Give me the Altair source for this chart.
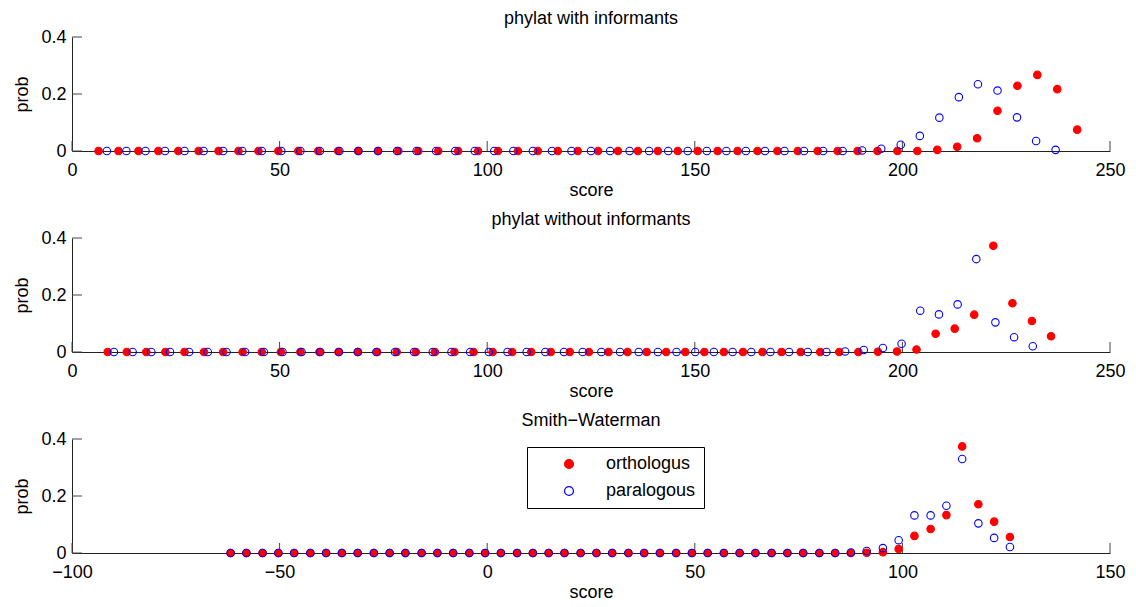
import altair as alt
import pandas as pd

FONT = "Liberation Sans"

series_names = ["orthologus", "paralogous"]
series_colors = ["#ff0000", "#0000ff"]
series_fills = ["#ff0000", "transparent"]

panel_titles = ["phylat with informants", "phylat without informants", "Smith\u2212Waterman"]

x_ticks_phylat = [0, 50, 100, 150, 200, 250]
x_ticks_sw = [-100, -50, 0, 50, 100, 150]
y_ticks = [0, 0.2, 0.4]

# ---- panel 1: phylat with informants ----
p1_orth_score = [6.4, 11.2, 16.0, 20.8, 25.6, 30.5, 35.3, 40.1, 44.9, 49.7,
                 54.5, 59.3, 64.1, 68.9, 73.7, 78.6, 83.4, 88.2, 93.0, 97.8,
                 102.6, 107.4, 112.2, 117.0, 121.8, 126.7, 131.5, 136.3, 141.1, 145.9,
                 150.7, 155.5, 160.3, 165.1, 169.9, 174.8, 179.6, 184.4, 189.2, 194.0,
                 198.8, 203.6, 208.4, 213.2, 218.0, 222.9, 227.7, 232.5, 237.3, 242.1]
p1_orth_prob = [0] * 42 + [0.004, 0.015, 0.045, 0.141, 0.229, 0.267, 0.217, 0.075]

p1_para_score = [8.4, 13.1, 17.7, 22.4, 27.1, 31.7, 36.4, 41.0, 45.7, 50.4,
                 55.0, 59.7, 64.4, 69.0, 73.7, 78.3, 83.0, 87.7, 92.3, 97.0,
                 101.7, 106.3, 111.0, 115.6, 120.3, 125.0, 129.6, 134.3, 139.0, 143.6,
                 148.3, 152.9, 157.6, 162.3, 166.9, 171.6, 176.3, 180.9, 185.6, 190.3,
                 194.9, 199.6, 204.2, 208.9, 213.6, 218.2, 222.9, 227.6, 232.2, 236.9]
p1_para_prob = [0] * 39 + [0.002, 0.008, 0.022, 0.053, 0.117, 0.189, 0.234, 0.212, 0.118, 0.035, 0.004]

# ---- panel 2: phylat without informants ----
p2_orth_score = [8.6, 13.2, 17.9, 22.5, 27.1, 31.8, 36.4, 41.1, 45.7, 50.3,
                 55.0, 59.6, 64.2, 68.9, 73.5, 78.2, 82.8, 87.4, 92.1, 96.7,
                 101.3, 106.0, 110.6, 115.3, 119.9, 124.5, 129.2, 133.8, 138.4, 143.1,
                 147.7, 152.3, 157.0, 161.6, 166.3, 170.9, 175.5, 180.2, 184.8, 189.4,
                 194.1, 198.7, 203.4, 208.0, 212.6, 217.3, 221.9, 226.5, 231.2, 235.8]
p2_orth_prob = [0] * 40 + [0.001, 0.002, 0.009, 0.064, 0.082, 0.131, 0.373, 0.171, 0.109, 0.055]

p2_para_score = [10.1, 14.6, 19.1, 23.6, 28.2, 32.7, 37.2, 41.7, 46.2, 50.7,
                 55.3, 59.8, 64.3, 68.8, 73.3, 77.8, 82.4, 86.9, 91.4, 95.9,
                 100.4, 104.9, 109.5, 114.0, 118.5, 123.0, 127.5, 132.0, 136.5, 141.1,
                 145.6, 150.1, 154.6, 159.1, 163.6, 168.2, 172.7, 177.2, 181.7, 186.2,
                 190.7, 195.3, 199.8, 204.3, 208.8, 213.3, 217.8, 222.4, 226.9, 231.4]
p2_para_prob = [0] * 39 + [0.002, 0.007, 0.014, 0.029, 0.145, 0.132, 0.167, 0.326, 0.104, 0.052, 0.020]

# ---- panel 3: Smith-Waterman ----
p3_score = [-61.8, -58.0, -54.1, -50.3, -46.5, -42.6, -38.8, -35.0, -31.2, -27.3,
            -23.5, -19.7, -15.8, -12.0, -8.2, -4.3, -0.5, 3.3, 7.2, 11.0,
            14.8, 18.6, 22.5, 26.3, 30.1, 34.0, 37.8, 41.6, 45.5, 49.3,
            53.1, 57.0, 60.8, 64.6, 68.5, 72.3, 76.1, 80.0, 83.8, 87.6,
            91.4, 95.3, 99.1, 102.9, 106.8, 110.6, 114.4, 118.3, 122.1, 125.9]
p3_orth_prob = [0] * 40 + [0.001, 0.003, 0.014, 0.060, 0.084, 0.133, 0.374, 0.171, 0.110, 0.056]
p3_para_prob = [0] * 39 + [0.002, 0.007, 0.017, 0.045, 0.132, 0.132, 0.166, 0.330, 0.104, 0.053, 0.021]

W = 1038
H = 114
TICK_COLOR = "#444444"
AXIS_COLOR = "#222222"


def make_panel(orth_s, orth_p, para_s, para_p, title, xdomain, xticks, show_legend):
    df = pd.DataFrame({
        "score": list(orth_s) + list(para_s),
        "prob": list(orth_p) + list(para_p),
        "series": [series_names[0]] * len(orth_s) + [series_names[1]] * len(para_s),
    })
    xs = alt.Scale(domain=xdomain, nice=False, zero=False)
    ys = alt.Scale(domain=[0, 0.4], nice=False, zero=False)
    x_axis = alt.Axis(
        values=xticks, ticks=False, tickSize=0, labelPadding=10, labelFlush=False,
        title="score", titlePadding=2, grid=False, domainColor=AXIS_COLOR)
    y_axis = alt.Axis(
        values=y_ticks, format="~g", ticks=False, tickSize=0, labelPadding=6,
        minExtent=31, maxExtent=31, title="prob", titlePadding=10, grid=False,
        domainColor=AXIS_COLOR)
    if show_legend:
        leg = alt.Legend(
            title=None, orient="none", legendX=455, legendY=8,
            strokeColor="black", fillColor="white", padding=8, rowPadding=9,
            symbolOffset=25, labelOffset=28, symbolSize=80, symbolStrokeWidth=1.2,
            symbolType="circle", labelFont=FONT, labelFontSize=18, labelColor="black",
            cornerRadius=0,
        )
    else:
        leg = None

    xt = alt.Chart(pd.DataFrame({"t": xticks})).mark_rule(color=TICK_COLOR, strokeWidth=1).encode(
        x=alt.X("t:Q", scale=xs, axis=x_axis),
        y=alt.value(H), y2=alt.value(H - 10),
    )
    yt = alt.Chart(pd.DataFrame({"t": y_ticks})).mark_rule(color=TICK_COLOR, strokeWidth=1).encode(
        y=alt.Y("t:Q", scale=ys, axis=y_axis),
        x=alt.value(0), x2=alt.value(10),
    )
    points = alt.Chart(df).mark_point(size=56, strokeWidth=1.1, opacity=1, filled=False).encode(
        x=alt.X("score:Q", scale=xs, axis=x_axis),
        y=alt.Y("prob:Q", scale=ys, axis=y_axis),
        color=alt.Color("series:N", scale=alt.Scale(domain=series_names, range=series_colors), legend=leg),
        fill=alt.Fill("series:N", scale=alt.Scale(domain=series_names, range=series_fills), legend=leg),
    )
    return alt.layer(xt, yt, points).properties(
        width=W, height=H,
        title=alt.Title(title, font=FONT, fontSize=18, fontWeight="normal", color="black",
                        offset=0, frame="group", anchor="middle"),
    )


p1 = make_panel(p1_orth_score, p1_orth_prob, p1_para_score, p1_para_prob,
                panel_titles[0], [0, 250], x_ticks_phylat, False)
p2 = make_panel(p2_orth_score, p2_orth_prob, p2_para_score, p2_para_prob,
                panel_titles[1], [0, 250], x_ticks_phylat, False)
p3 = make_panel(p3_score, p3_orth_prob, p3_score, p3_para_prob,
                panel_titles[2], [-100, 150], x_ticks_sw, True)

chart = alt.vconcat(p1, p2, p3, spacing=12).resolve_scale(
    color="independent", fill="independent"
).properties(
    padding={"left": 5, "top": 2, "right": 0, "bottom": 0},
    background="white",
).configure_view(stroke=None).configure_axis(
    labelFont=FONT, titleFont=FONT, labelFontSize=18, titleFontSize=18,
    titleFontWeight="normal", labelColor="black", titleColor="black", domainWidth=1,
)

chart.save("out.html", embed_options={"renderer": "svg", "actions": False})
